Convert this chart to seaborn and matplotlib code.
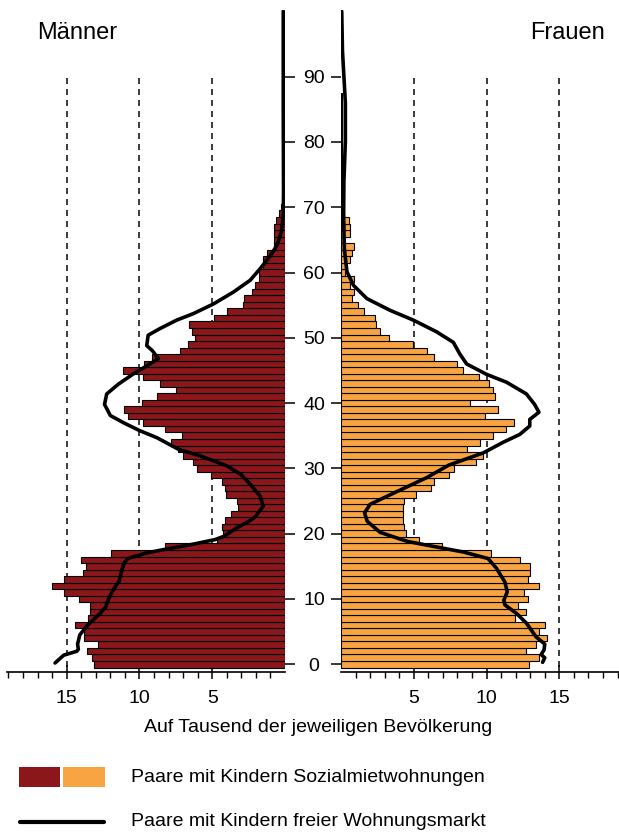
import matplotlib
matplotlib.use("Agg")
import matplotlib.pyplot as plt
import seaborn as sns
from matplotlib.patches import Rectangle
from matplotlib.lines import Line2D
from matplotlib.ticker import FixedLocator

sns.set_theme(style="white")
plt.rcParams['font.family'] = ['Liberation Sans', 'DejaVu Sans']
plt.rcParams['text.color'] = 'black'
plt.rcParams['axes.labelcolor'] = 'black'
plt.rcParams['xtick.color'] = 'black'
plt.rcParams['ytick.color'] = 'black'

# ---------------- data ----------------
# Paare mit Kindern Sozialmietwohnungen (per mille), ages 0..
men_social = [13.13, 13.24, 13.63, 12.88, 13.79, 13.79, 14.41, 13.52, 13.38, 13.38,
              14.16, 15.19, 15.99, 15.19, 13.91, 13.68, 14.04, 11.98, 8.25, 4.70,
              4.24, 4.35, 4.10, 3.73, 3.20, 3.32, 4.08, 4.10, 4.35, 5.11,
              6.03, 6.35, 7.03, 7.33, 7.86, 7.10, 8.25, 9.78, 10.81, 11.09,
              9.85, 8.77, 7.49, 8.59, 9.78, 11.11, 9.67, 9.12, 7.20, 6.67,
              6.19, 6.41, 6.58, 4.86, 3.96, 2.91, 2.80, 2.29, 2.04, 1.76,
              1.76, 1.53, 1.49, 1.26, 0.76, 0.76, 0.76, 0.76, 0.62, 0.39,
              0.30, 0.06, 0.05, 0.04, 0.04, 0.03, 0.03, 0.02, 0.02, 0.02]
women_social = [12.92, 13.63, 12.72, 13.38, 14.16, 13.63, 14.02, 11.96, 12.72, 12.19,
                12.85, 12.58, 13.63, 12.85, 12.97, 12.97, 12.33, 10.30, 6.92, 5.39,
                4.47, 4.34, 4.25, 4.25, 4.25, 4.34, 5.16, 6.19, 6.39, 7.45,
                7.74, 9.27, 9.79, 8.65, 9.52, 10.41, 11.32, 11.87, 9.91, 10.82,
                8.88, 10.57, 10.41, 10.18, 9.50, 8.36, 7.99, 6.42, 5.94, 4.93,
                3.33, 2.65, 2.42, 2.31, 1.55, 1.14, 0.78, 0.87, 0.64, 0.91,
                0.30, 0.25, 0.64, 0.78, 0.91, 0.25, 0.64, 0.64, 0.53, 0.18,
                0.15, 0.12, 0.12, 0.10, 0.10, 0.09, 0.09, 0.08, 0.08, 0.08,
                0.07, 0.07, 0.06, 0.06, 0.05, 0.05, 0.04, 0.04]
men_ages = list(range(len(men_social)))
women_ages = list(range(len(women_social)))

# Paare mit Kindern freier Wohnungsmarkt (per mille)
men_market_age = [0.2, 0.8, 1.4, 2.0, 2.3, 3.1, 4.5, 5.9, 7.8, 8.8, 9.6, 10.6, 11.6, 12.7,
                  14.5, 15.5, 16.2, 17.0, 17.5, 18.4, 19.1, 19.6, 20.9, 22.0, 22.7, 24.2,
                  25.8, 27.6, 29.0, 30.4, 31.9, 32.9, 34.7, 35.8, 37.0, 38.1, 39.8, 41.4,
                  42.9, 44.5, 45.7, 46.8, 48.0, 48.8, 50.4, 51.4, 52.7, 53.7, 55.2, 57.0,
                  58.8, 60.6, 62.6, 64.1, 66.2, 68.7, 72.3, 85.0, 100.0]
men_market_val = [15.8, 15.5, 15.2, 14.3, 14.2, 14.25, 14.1, 13.6, 12.7, 12.3, 12.2, 12.0, 11.75, 11.4,
                  11.2, 11.05, 10.8, 9.6, 8.5, 6.3, 4.8, 4.2, 3.3, 2.4, 2.0, 1.5,
                  1.72, 2.4, 3.0, 4.0, 5.8, 7.3, 8.8, 10.0, 11.1, 12.0, 12.4, 12.25,
                  11.45, 10.4, 9.5, 8.7, 9.1, 9.5, 9.4, 8.6, 7.45, 6.3, 4.9, 3.55,
                  2.4, 1.7, 1.0, 0.57, 0.25, 0.12, 0.1, 0.12, 0.12]
women_market_age = [0.3, 1.0, 1.5, 2.2, 3.1, 4.2, 6.3, 7.8, 9.1, 9.8, 11.1, 12.6, 14.7, 16.2,
                    17.2, 18.2, 18.8, 19.3, 20.2, 21.9, 23.2, 24.5, 26.3, 28.6, 30.5, 32.4,
                    34.0, 35.2, 36.5, 37.5, 38.6, 39.8, 41.4, 43.2, 44.4, 46.0, 47.5, 49.3,
                    50.9, 52.7, 54.2, 56.0, 58.0, 60.1, 63.6, 68.7, 74.0, 80.0, 86.0, 94.0, 100.0]
women_market_val = [13.85, 14.0, 13.75, 13.95, 14.0, 13.4, 12.74, 12.05, 11.26, 11.19, 11.42, 11.26, 10.68, 10.1,
                    8.4, 6.0, 4.6, 3.9, 2.69, 1.8, 1.62, 2.0, 3.7, 5.9, 7.4, 9.8,
                    11.14, 12.28, 12.97, 12.97, 13.6, 13.3, 12.74, 11.37, 10.0, 8.63, 8.17, 7.72,
                    6.58, 4.98, 3.38, 1.78, 0.87, 0.41, 0.23, 0.18, 0.2, 0.3, 0.3, 0.1, 0.05]

age_ticks = [0, 10, 20, 30, 40, 50, 60, 70, 80, 90]
x_major = [5, 10, 15]

RED = "#8B171B"
ORANGE = "#F9A443"

# ---------------- figure ----------------
W, H = 619, 835
fig = plt.figure(figsize=(W / 100, H / 100), dpi=100)

def fx(px):
    return px / W

def fy(py):
    return 1 - py / H

ax_top, ax_bot = 10, 672
ax_l = fig.add_axes([fx(7), fy(ax_bot), fx(285 - 7), (ax_bot - ax_top) / H])
ax_r = fig.add_axes([fx(341), fy(ax_bot), fx(619 - 341), (ax_bot - ax_top) / H])

XMAX = 19.1
YMIN, YMAX = -1.18, 100.2

for ax, vals, ages, mk_age, mk_val, col in [
        (ax_l, men_social, men_ages, men_market_age, men_market_val, RED),
        (ax_r, women_social, women_ages, women_market_age, women_market_val, ORANGE)]:
    ax.vlines(x_major, -0.4, 90.5, colors="#1a1a1a", linestyles=(0, (3.6, 3.0)),
              linewidth=1.2, zorder=0)
    sns.barplot(x=vals, y=ages, orient="h", native_scale=True, width=1.0,
                color=col, saturation=1, edgecolor="black", linewidth=0.8,
                errorbar=None, ax=ax, zorder=2)
    sns.lineplot(x=mk_val, y=mk_age, sort=False, estimator=None, color="black",
                 linewidth=2.6, ax=ax, zorder=3)
    ax.set_ylim(YMIN, YMAX)
    for s in ["top", "left", "right"]:
        ax.spines[s].set_visible(False)
    ax.spines["bottom"].set_linewidth(1.2)
    ax.spines["bottom"].set_color("black")
    ax.xaxis.set_major_locator(FixedLocator(x_major))
    ax.xaxis.set_minor_locator(FixedLocator([v for v in range(1, 20) if v % 5]))
    ax.tick_params(axis="x", which="major", direction="inout", length=10, width=1.1,
                   labelsize=14, pad=8, colors="black", bottom=True)
    ax.tick_params(axis="x", which="minor", direction="out", length=4.3, width=1.0,
                   colors="black", bottom=True)
    ax.set_xlabel("")
    ax.set_ylabel("")
    ax.set_facecolor("none")
    ax.grid(False)

ax_l.set_xlim(XMAX, 0)
ax_r.set_xlim(0, XMAX)

ax_l.yaxis.tick_right()
ax_l.set_yticks(age_ticks)
ax_l.tick_params(axis="y", direction="out", length=7.2, width=1.1, colors="black",
                 right=True, left=False, labelright=False, labelleft=False)
ax_r.set_yticks(age_ticks)
ax_r.set_yticklabels([str(a) for a in age_ticks], ha="center")
ax_r.tick_params(axis="y", direction="out", length=7.2, width=1.1, colors="black",
                 left=True, labelleft=True, labelsize=14, pad=12.2)

fig.text(fx(37), fy(33), "Männer", ha="left", va="center", fontsize=17, color="black")
fig.text(fx(605), fy(33), "Frauen", ha="right", va="center", fontsize=17, color="black")
fig.text(fx(318), fy(728), "Auf Tausend der jeweiligen Bevölkerung",
         ha="center", va="center", fontsize=14, color="black")

# legend
fig.patches.append(Rectangle((fx(19), fy(787)), fx(41), 20 / H, transform=fig.transFigure,
                             facecolor=RED, edgecolor="none"))
fig.patches.append(Rectangle((fx(63), fy(787)), fx(42), 20 / H, transform=fig.transFigure,
                             facecolor=ORANGE, edgecolor="none"))
fig.text(fx(131), fy(777), "Paare mit Kindern Sozialmietwohnungen", ha="left",
         va="center", fontsize=14, color="black")
fig.lines.append(Line2D([fx(20), fx(104)], [fy(822), fy(822)], transform=fig.transFigure,
                        color="black", linewidth=3))
fig.text(fx(131), fy(822), "Paare mit Kindern freier Wohnungsmarkt", ha="left",
         va="center", fontsize=14, color="black")

fig.savefig("out.png", dpi=100, facecolor="white")
